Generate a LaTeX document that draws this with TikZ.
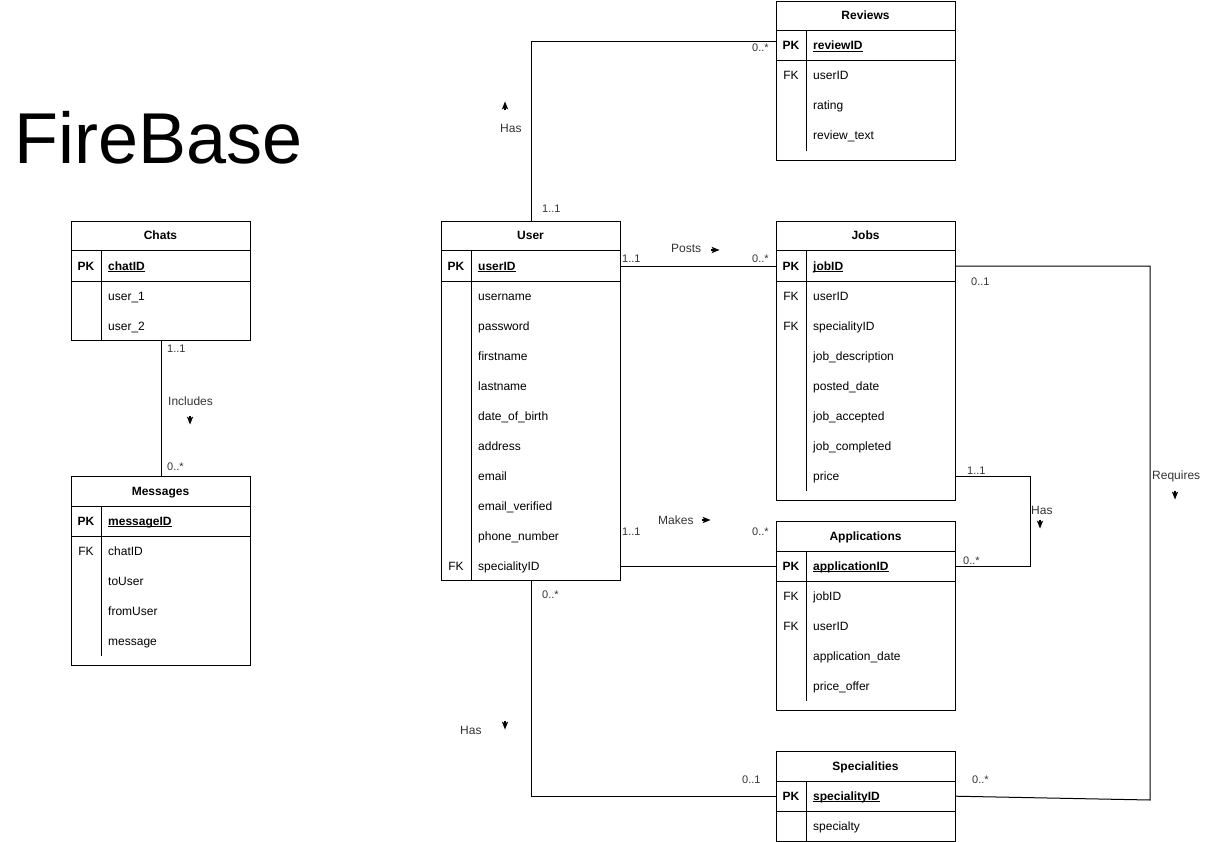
\documentclass[tikz,border=0pt]{standalone}
\usepackage{fontspec}
\setmainfont{Liberation Sans}
\definecolor{lab}{HTML}{333333}
\newcommand{\pkul}[1]{\setbox0\hbox{\textbf{#1}}\rlap{\rule[-2pt]{\wd0}{0.7pt}}\box0}
\newcommand{\erow}[5]{%
  \node[rowbox] (#1) at (#2,#3) {};
  \node[keyt] at (#2+15,#3+19) {#4};
  \node[fld] at (#2+37,#3+19) {#5};}
\begin{document}
\begin{tikzpicture}[x=1pt,y=-1pt,
  tbl/.style={draw, line width=1pt, minimum width=179pt, minimum height=#1, anchor=north west, inner sep=0pt},
  rowbox/.style={minimum width=179pt, minimum height=30pt, anchor=north west, inner sep=0pt},
  keyt/.style={anchor=base, inner sep=0pt, font=\fontsize{12}{14}\selectfont},
  fld/.style={anchor=base west, inner sep=0pt, font=\fontsize{12}{14}\selectfont},
  titl/.style={anchor=base, inner sep=0pt, font=\fontsize{12}{14}\selectfont\bfseries},
  lbl/.style={anchor=base west, inner sep=0pt, font=\fontsize{12}{14}\selectfont, text=lab},
  card/.style={anchor=base west, inner sep=0pt, font=\fontsize{11}{13}\selectfont, text=lab},
  conn/.style={line width=1pt},
  sep/.style={line width=1pt},
  darr/.pic={\fill (4.5,0) -- (-3.5,-3.2) -- (-1.5,0) -- (-3.5,3.2) -- cycle;
             \draw[line width=1.1pt] (-4.5,0) -- (-1,0);}]
\useasboundingbox (0,0) rectangle (1212,842);

% Title
\node[anchor=base west, inner sep=0pt, font=\fontsize{72}{80}\selectfont] (fb) at (14,164) {FireBase};

% ---------- Reviews ----------
\node[tbl=159pt] (rev) at (776,1) {};
\node[titl] at (865.5,20) {Reviews};
\erow{rev-pk}{776}{31}{\textbf{PK}}{\pkul{reviewID}}
\erow{rev-1}{776}{61}{FK}{userID}
\erow{rev-2}{776}{91}{}{rating}
\erow{rev-3}{776}{121}{}{review\_text}
\draw[sep] (776,31) -- (955,31) (776,61) -- (955,61) (806,31) -- (806,151);

% ---------- User ----------
\node[tbl=359pt] (user) at (441,221) {};
\node[titl] at (530.5,240) {User};
\erow{u-pk}{441}{251}{\textbf{PK}}{\pkul{userID}}
\erow{u-1}{441}{281}{}{username}
\erow{u-2}{441}{311}{}{password}
\erow{u-3}{441}{341}{}{firstname}
\erow{u-4}{441}{371}{}{lastname}
\erow{u-5}{441}{401}{}{date\_of\_birth}
\erow{u-6}{441}{431}{}{address}
\erow{u-7}{441}{461}{}{email}
\erow{u-8}{441}{491}{}{email\_verified}
\erow{u-9}{441}{521}{}{phone\_number}
\erow{u-10}{441}{551}{FK}{specialityID}
\draw[sep] (441,251) -- (620,251) (441,281) -- (620,281) (471,251) -- (471,580);

% ---------- Jobs ----------
\node[tbl=279pt] (jobs) at (776,221) {};
\node[titl] at (865.5,240) {Jobs};
\erow{j-pk}{776}{251}{\textbf{PK}}{\pkul{jobID}}
\erow{j-1}{776}{281}{FK}{userID}
\erow{j-2}{776}{311}{FK}{specialityID}
\erow{j-3}{776}{341}{}{job\_description}
\erow{j-4}{776}{371}{}{posted\_date}
\erow{j-5}{776}{401}{}{job\_accepted}
\erow{j-6}{776}{431}{}{job\_completed}
\erow{j-7}{776}{461}{}{price}
\draw[sep] (776,251) -- (955,251) (776,281) -- (955,281) (806,251) -- (806,491);

% ---------- Applications ----------
\node[tbl=189pt] (app) at (776,521) {};
\node[titl] at (865.5,540) {Applications};
\erow{a-pk}{776}{551}{\textbf{PK}}{\pkul{applicationID}}
\erow{a-1}{776}{581}{FK}{jobID}
\erow{a-2}{776}{611}{FK}{userID}
\erow{a-3}{776}{641}{}{application\_date}
\erow{a-4}{776}{671}{}{price\_offer}
\draw[sep] (776,551) -- (955,551) (776,581) -- (955,581) (806,551) -- (806,701);

% ---------- Specialities ----------
\node[tbl=90pt] (spec) at (776,751) {};
\node[titl] at (865.5,770) {Specialities};
\erow{sp-pk}{776}{781}{\textbf{PK}}{\pkul{specialityID}}
\erow{sp-1}{776}{811}{}{specialty}
\draw[sep] (776,781) -- (955,781) (776,811) -- (955,811) (806,781) -- (806,841);

% ---------- Chats ----------
\node[tbl=119pt] (chats) at (71,221) {};
\node[titl] at (160.5,240) {Chats};
\erow{c-pk}{71}{251}{\textbf{PK}}{\pkul{chatID}}
\erow{c-1}{71}{281}{}{user\_1}
\erow{c-2}{71}{311}{}{user\_2}
\draw[sep] (71,251) -- (250,251) (71,281) -- (250,281) (101,251) -- (101,340);

% ---------- Messages ----------
\node[tbl=189pt] (msg) at (71,476) {};
\node[titl] at (160.5,495) {Messages};
\erow{m-pk}{71}{506}{\textbf{PK}}{\pkul{messageID}}
\erow{m-1}{71}{536}{FK}{chatID}
\erow{m-2}{71}{566}{}{toUser}
\erow{m-3}{71}{596}{}{fromUser}
\erow{m-4}{71}{626}{}{message}
\draw[sep] (71,506) -- (250,506) (71,536) -- (250,536) (101,506) -- (101,656);

% ---------- Connectors ----------
\coordinate (rq) at (1150,800);
\draw[conn] (user.north) |- ([yshift=5pt]rev-pk.west);
\draw[conn] (u-pk.east) -- (j-pk.west);
\draw[conn] (u-10.east) -- (u-10.east -| a-pk.west);
\draw[conn] (j-pk.east) -| (rq) -- (sp-pk.east);
\draw[conn] (j-7.east) -- ++(75,0) |- (a-pk.east);
\draw[conn] (user.south) |- (sp-pk.west);
\draw[conn] (chats.south) -- (msg.north);

% ---------- Labels ----------
% User - Reviews
\node[lbl] (l-has1) at (500,133) {Has};
\pic[rotate=90] at (505,106) {darr};
\node[card] at (542,213) {1..1};
\node[card] at (752,52) {0..*};
% User - Jobs
\node[lbl] (l-posts) at (671,253) {Posts};
\pic at (715,250) {darr};
\node[card] at (622,263) {1..1};
\node[card] at (752,263) {0..*};
% User - Applications
\node[lbl] (l-makes) at (658,524) {Makes};
\pic at (706,520) {darr};
\node[card] at (622,535) {1..1};
\node[card] at (752,535) {0..*};
% Jobs - Specialities
\node[card] at (971,285) {0..1};
\node[card] at (972,783) {0..*};
\node[lbl] (l-req) at (1152,479) {Requires};
\pic[rotate=-90] at (1175,495) {darr};
% Jobs - Applications
\node[card] at (967,474) {1..1};
\node[card] at (963,564) {0..*};
\node[lbl] (l-has2) at (1031,514) {Has};
\pic[rotate=-90] at (1040,524) {darr};
% User - Specialities
\node[card] at (542,598) {0..*};
\node[lbl] (l-has3) at (460,734) {Has};
\pic[rotate=-90] at (505,725) {darr};
\node[card] at (742,783) {0..1};
% Chats - Messages
\node[card] at (167,352) {1..1};
\node[lbl] (l-inc) at (168,405) {Includes};
\pic[rotate=-90] at (190,420) {darr};
\node[card] at (167,470) {0..*};
\end{tikzpicture}
\end{document}
